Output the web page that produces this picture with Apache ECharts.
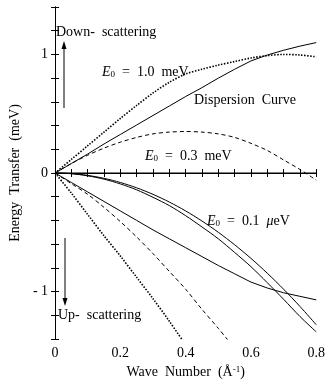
<!DOCTYPE html>
<html>
<head>
<meta charset="utf-8">
<script src="https://cdn.jsdelivr.net/npm/echarts@6/dist/echarts.min.js"></script>
<style>
  html, body { margin: 0; padding: 0; background: #fff; }
  #chart { width: 328px; height: 384px; }
</style>
</head>
<body>
<div id="chart"></div>
<script>
// wave number grid (1/Å)
const waveNumber = [0, 0.05, 0.1, 0.15, 0.2, 0.25, 0.3, 0.35, 0.4, 0.45, 0.5, 0.55, 0.6, 0.65, 0.7, 0.75, 0.8];

// energy transfer (meV)
const zeroLine      = [0, 0, 0, 0, 0, 0, 0, 0, 0, 0, 0, 0, 0, 0, 0, 0, 0];
const dispersionUp  = [0, 0.08, 0.16, 0.245, 0.325, 0.405, 0.485, 0.565, 0.645, 0.72, 0.80, 0.875, 0.945, 0.995, 1.035, 1.07, 1.10];
const dispersionDn  = [0, -0.08, -0.16, -0.24, -0.32, -0.40, -0.48, -0.555, -0.63, -0.705, -0.78, -0.85, -0.92, -0.97, -1.01, -1.04, -1.07];
const e10Down       = [0, 0.115, 0.23, 0.345, 0.46, 0.57, 0.675, 0.765, 0.835, 0.875, 0.91, 0.94, 0.97, 0.99, 1.0, 0.995, 0.98];
const e10Up         = [0, -0.17, -0.35, -0.53, -0.70, -0.88, -1.06, -1.25, -1.45, null, null, null, null, null, null, null, null];
const e03Down       = [0, 0.08, 0.15, 0.21, 0.26, 0.30, 0.33, 0.345, 0.35, 0.345, 0.33, 0.30, 0.25, 0.19, 0.11, 0.03, -0.06];
const e03Up         = [0, -0.09, -0.18, -0.29, -0.41, -0.54, -0.68, -0.83, -0.98, -1.15, -1.31, -1.48, null, null, null, null, null];
const e01A          = [0, -0.005, -0.02, -0.045, -0.08, -0.125, -0.18, -0.245, -0.32, -0.405, -0.50, -0.605, -0.72, -0.845, -0.98, -1.125, -1.28];
const e01B          = [0, -0.006, -0.024, -0.052, -0.092, -0.142, -0.205, -0.275, -0.36, -0.455, -0.555, -0.67, -0.79, -0.925, -1.065, -1.21, -1.34];

const yTickLabels = { '1': '1', '0': '0', '-1': '- 1' };

const FONT = 'Liberation Serif';

const pairs = (ys) => waveNumber.map((k, i) => [k, ys[i]]);

const chart = echarts.init(document.getElementById('chart'), null, { renderer: 'canvas' });

const lineSeries = (name, ys, style) => ({
  name,
  type: 'line',
  data: pairs(ys),
  symbol: 'none',
  smooth: style.smooth !== undefined ? style.smooth : 0.3,
  clip: true,
  lineStyle: { color: '#000', width: style.width || 1, type: style.type || 'solid' },
  silent: true,
  animation: false,
});

const tickStyle = { show: true, inside: true, length: 4, lineStyle: { color: '#000', width: 1 } };
const axisLineStyle = { show: true, lineStyle: { color: '#000', width: 1 } };

const sub = { fontSize: 9, fontFamily: FONT, verticalAlign: 'bottom', lineHeight: 8 };
const it = { fontSize: 14, fontFamily: FONT, fontStyle: 'italic' };

const textEl = (x, y, text) => ({
  type: 'text',
  x, y,
  style: {
    text,
    fill: '#000',
    font: '14px "' + FONT + '"',
    align: 'left',
    verticalAlign: 'middle',
    rich: { i: it, s: sub, n: { fontSize: 14, fontFamily: FONT } },
  },
  silent: true,
});

const arrow = (x, y1, y2) => {
  const dir = y2 < y1 ? -1 : 1;
  return [
    { type: 'line', shape: { x1: x, y1: y1, x2: x, y2: y2 - dir * 6 }, style: { stroke: '#000', lineWidth: 1 } },
    { type: 'polygon', shape: { points: [[x - 2.5, y2 - dir * 8], [x, y2], [x + 2.5, y2 - dir * 8]] }, style: { fill: '#000' } },
  ];
};

const option = {
  animation: false,
  grid: { left: 47, right: 10, top: 7, bottom: 40 },
  xAxis: [
    {
      type: 'value', min: 0, max: 0.8, interval: 0.2,
      axisLine: axisLineStyle,
      axisTick: tickStyle,
      minorTick: { show: true, splitNumber: 4, length: 4, lineStyle: { color: '#000' } },
      splitLine: { show: false },
      axisLabel: {
        color: '#000', fontFamily: FONT, fontSize: 14, margin: 7,
        formatter: (v) => (Math.abs(v) < 1e-9 ? '0' : (Math.round(v * 10) / 10).toFixed(1)),
      },
      name: '{n|Wave  Number  (Å}{p|-1}{n|)}',
      nameLocation: 'middle',
      nameGap: 26,
      nameTextStyle: {
        color: '#000', fontFamily: FONT, fontSize: 14,
        rich: { n: { fontSize: 14, fontFamily: FONT }, p: { fontSize: 9, fontFamily: FONT, verticalAlign: 'top', lineHeight: 8 } },
      },
    },
    {
      type: 'value', min: 0, max: 0.8, interval: 0.2, position: 'top',
      axisLine: axisLineStyle,
      axisTick: tickStyle,
      minorTick: { show: true, splitNumber: 4, length: 4, lineStyle: { color: '#000' } },
      splitLine: { show: false },
      axisLabel: { show: false },
    },
  ],
  yAxis: [
    {
      type: 'value', min: -1.4, max: 1.4, interval: 0.2,
      axisLine: axisLineStyle,
      axisTick: tickStyle,
      splitLine: { show: false },
      axisLabel: {
        color: '#000', fontFamily: FONT, fontSize: 14, margin: 7,
        formatter: (v) => {
          const r = Math.round(v * 10) / 10;
          return yTickLabels[String(r)] || '';
        },
      },
      name: 'Energy  Transfer  (meV)',
      nameLocation: 'middle',
      nameGap: 30,
      nameTextStyle: { color: '#000', fontFamily: FONT, fontSize: 14 },
    },
    {
      type: 'value', min: -1.4, max: 1.4, interval: 0.2, position: 'right',
      axisLine: axisLineStyle,
      axisTick: tickStyle,
      splitLine: { show: false },
      axisLabel: { show: false },
    },
  ],
  series: [
    lineSeries('zero', zeroLine, { smooth: false }),
    lineSeries('Dispersion up', dispersionUp, { smooth: false }),
    lineSeries('Dispersion down', dispersionDn, { smooth: false }),
    lineSeries('E0=1.0 down', e10Down, { type: [1.5, 1.5], width: 1.6 }),
    lineSeries('E0=1.0 up', e10Up, { type: [1.5, 1.5], width: 1.6 }),
    lineSeries('E0=0.3 down', e03Down, { type: [4, 3] }),
    lineSeries('E0=0.3 up', e03Up, { type: [4, 3] }),
    lineSeries('E0=0.1 a', e01A, {}),
    lineSeries('E0=0.1 b', e01B, {}),
  ],
  graphic: [
    textEl(56, 32, 'Down-  scattering'),
    ...arrow(64, 108, 41),
    textEl(102, 72, '{i|E}{s|0}{n|  =  1.0  meV}'),
    textEl(194, 100, 'Dispersion  Curve'),
    textEl(145, 156, '{i|E}{s|0}{n|  =  0.3  meV}'),
    textEl(207, 221, '{i|E}{s|0}{n|  =  0.1  }{i|μ}{n|eV}'),
    textEl(58, 315, 'Up-  scattering'),
    ...arrow(65, 238, 306),
  ],
};

chart.setOption(option);
window.addEventListener('resize', () => chart.resize());
</script>
</body>
</html>
